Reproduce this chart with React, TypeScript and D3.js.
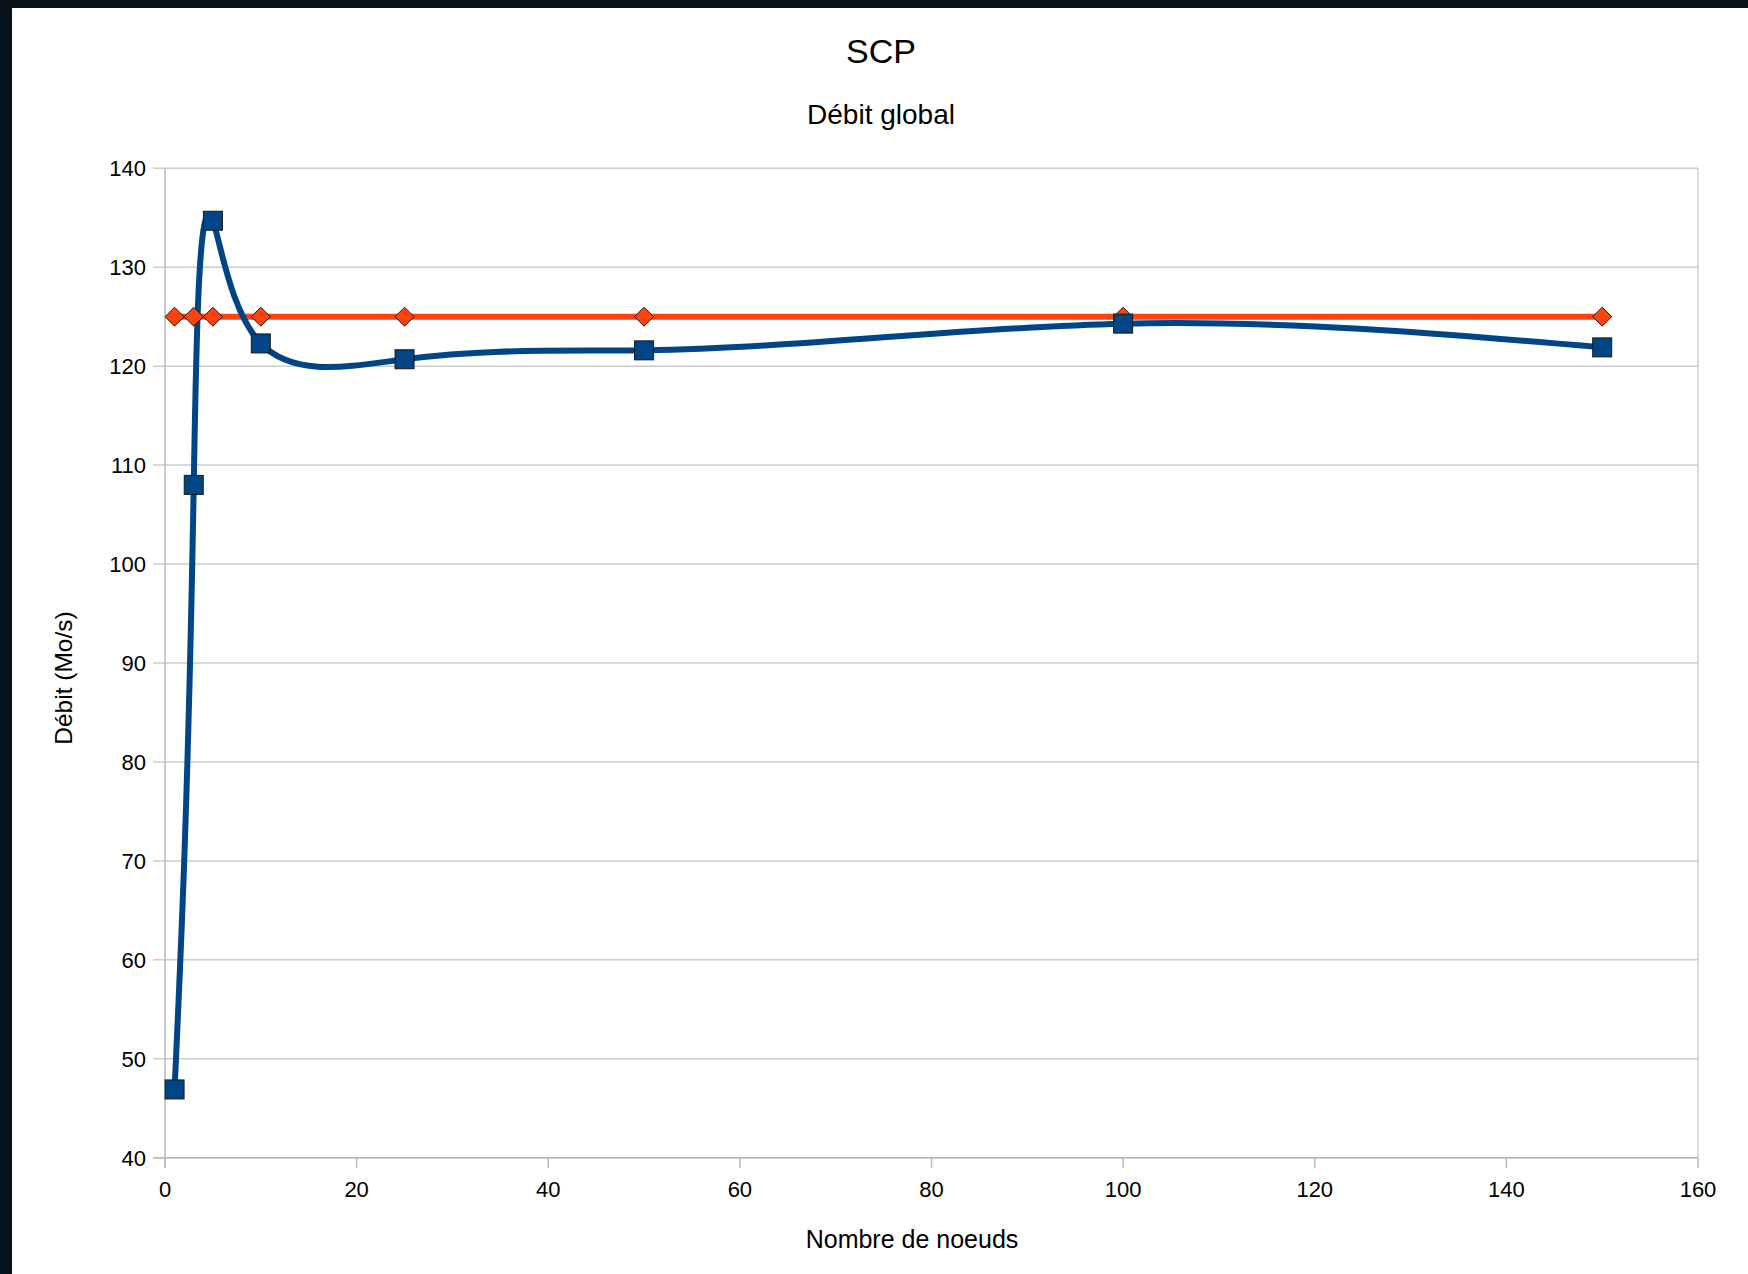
import React from "react";
import * as d3 from "d3";

// Number of nodes on the x axis
const nodeCounts = [1, 3, 5, 10, 25, 50, 100, 150];
// Measured global throughput (MB/s)
const measuredThroughput = [46.9, 108, 134.7, 122.3, 120.7, 121.6, 124.3, 121.9];
// Reference throughput (MB/s)
const referenceThroughput = [125, 125, 125, 125, 125, 125, 125, 125];

const xTicks = [0, 20, 40, 60, 80, 100, 120, 140, 160];
const yTicks = [40, 50, 60, 70, 80, 90, 100, 110, 120, 130, 140];

const title = "SCP";
const subtitle = "Débit global";
const xTitle = "Nombre de noeuds";
const yTitle = "Débit (Mo/s)";

const W = 1748;
const H = 1274;
const FONT = "'Liberation Sans', Arial, sans-serif";

// Natural cubic spline, parametrised by chord length, emitted as Bézier segments
function splinePath(pts: [number, number][]): string {
  const n = pts.length - 1;
  const p = d3.path();
  if (n < 1) return "";
  const h: number[] = [];
  for (let i = 0; i < n; i++) {
    const dx = pts[i + 1][0] - pts[i][0];
    const dy = pts[i + 1][1] - pts[i][1];
    h.push(Math.max(Math.hypot(dx, dy), 1e-6));
  }
  const second = (vals: number[]) => {
    const M = new Array(n + 1).fill(0);
    if (n < 2) return M;
    const a: number[] = [], b: number[] = [], c: number[] = [], r: number[] = [];
    for (let i = 1; i < n; i++) {
      a.push(h[i - 1]);
      b.push(2 * (h[i - 1] + h[i]));
      c.push(h[i]);
      r.push(6 * ((vals[i + 1] - vals[i]) / h[i] - (vals[i] - vals[i - 1]) / h[i - 1]));
    }
    const m = b.length;
    for (let i = 1; i < m; i++) {
      const w = a[i] / b[i - 1];
      b[i] -= w * c[i - 1];
      r[i] -= w * r[i - 1];
    }
    const sol = new Array(m).fill(0);
    sol[m - 1] = r[m - 1] / b[m - 1];
    for (let i = m - 2; i >= 0; i--) sol[i] = (r[i] - c[i] * sol[i + 1]) / b[i];
    for (let i = 0; i < m; i++) M[i + 1] = sol[i];
    return M;
  };
  const xs = pts.map((q) => q[0]);
  const ys = pts.map((q) => q[1]);
  const Mx = second(xs);
  const My = second(ys);
  const d0 = (v: number[], M: number[], i: number) =>
    (v[i + 1] - v[i]) / h[i] - (h[i] * (2 * M[i] + M[i + 1])) / 6;
  const d1 = (v: number[], M: number[], i: number) =>
    (v[i + 1] - v[i]) / h[i] + (h[i] * (M[i] + 2 * M[i + 1])) / 6;
  p.moveTo(xs[0], ys[0]);
  for (let i = 0; i < n; i++) {
    const k = h[i] / 3;
    p.bezierCurveTo(
      xs[i] + k * d0(xs, Mx, i),
      ys[i] + k * d0(ys, My, i),
      xs[i + 1] - k * d1(xs, Mx, i),
      ys[i + 1] - k * d1(ys, My, i),
      xs[i + 1],
      ys[i + 1]
    );
  }
  return p.toString();
}

export default function App() {
  const left = 165, right = 1698, top = 168.3, bottom = 1157.7;
  const x = d3.scaleLinear().domain([0, 160]).range([left, right]);
  const y = d3.scaleLinear().domain([40, 140]).range([bottom, top]);

  const bluePts: [number, number][] = nodeCounts.map((n, i) => [x(n), y(measuredThroughput[i])]);
  const orangeLine = d3
    .line<number>()
    .x((_, i) => x(nodeCounts[i]))
    .y((v) => y(v))(referenceThroughput) as string;

  const sq = 19;
  const dm = 9.5;

  return (
    <div style={{ position: "absolute", left: 0, top: 0 }}>
      <svg width={W} height={H} style={{ display: "block" }} fontFamily={FONT}>
        <rect x={0} y={0} width={W} height={H} fill="#06131d" />
        <rect x={12} y={8} width={W - 12} height={H - 8} fill="#ffffff" />

        {/* horizontal grid */}
        {yTicks.map((t) => (
          <line key={"g" + t} x1={left - 12} x2={right} y1={y(t)} y2={y(t)} stroke="#cccccc" strokeWidth={1.5} />
        ))}
        {/* right frame */}
        <line x1={right} x2={right} y1={top} y2={bottom} stroke="#d0d0d0" strokeWidth={1.5} />
        {/* axes */}
        <line x1={left} x2={left} y1={top} y2={bottom + 10} stroke="#b8b8b8" strokeWidth={1.5} />
        <line x1={left - 12} x2={right} y1={bottom} y2={bottom} stroke="#b8b8b8" strokeWidth={1.5} />
        {xTicks.map((t) => (
          <line key={"xt" + t} x1={x(t)} x2={x(t)} y1={bottom} y2={bottom + 10} stroke="#b8b8b8" strokeWidth={1.5} />
        ))}

        {/* tick labels */}
        {yTicks.map((t) => (
          <text key={"yl" + t} x={146} y={y(t) + 8} textAnchor="end" fontSize={22} fill="#000">
            {t}
          </text>
        ))}
        {xTicks.map((t) => (
          <text key={"xl" + t} x={x(t)} y={1197} textAnchor="middle" fontSize={22} fill="#000">
            {t}
          </text>
        ))}

        {/* series lines */}
        <path d={orangeLine} fill="none" stroke="#ff420e" strokeWidth={6} />
        <path d={splinePath(bluePts)} fill="none" stroke="#004586" strokeWidth={6} strokeLinejoin="round" />

        {/* markers */}
        {referenceThroughput.map((v, i) => {
          const cx = x(nodeCounts[i]);
          const cy = y(v);
          return (
            <path
              key={"d" + i}
              d={`M${cx},${cy - dm}L${cx + dm},${cy}L${cx},${cy + dm}L${cx - dm},${cy}Z`}
              fill="#ff420e"
              stroke="#1a1a1a"
              strokeWidth={1}
            />
          );
        })}
        {measuredThroughput.map((v, i) => (
          <rect
            key={"s" + i}
            x={x(nodeCounts[i]) - sq / 2}
            y={y(v) - sq / 2}
            width={sq}
            height={sq}
            fill="#004586"
            stroke="#1a1a1a"
            strokeWidth={1}
          />
        ))}

        {/* titles */}
        <text x={881} y={63} textAnchor="middle" fontSize={34} fill="#000">
          {title}
        </text>
        <text x={881} y={124} textAnchor="middle" fontSize={28} fill="#000">
          {subtitle}
        </text>
        <text x={912} y={1248} textAnchor="middle" fontSize={25} fill="#000">
          {xTitle}
        </text>
        <text
          x={0}
          y={0}
          transform={`translate(72,678) rotate(-90)`}
          textAnchor="middle"
          fontSize={24.5}
          fill="#000"
        >
          {yTitle}
        </text>
      </svg>
    </div>
  );
}
